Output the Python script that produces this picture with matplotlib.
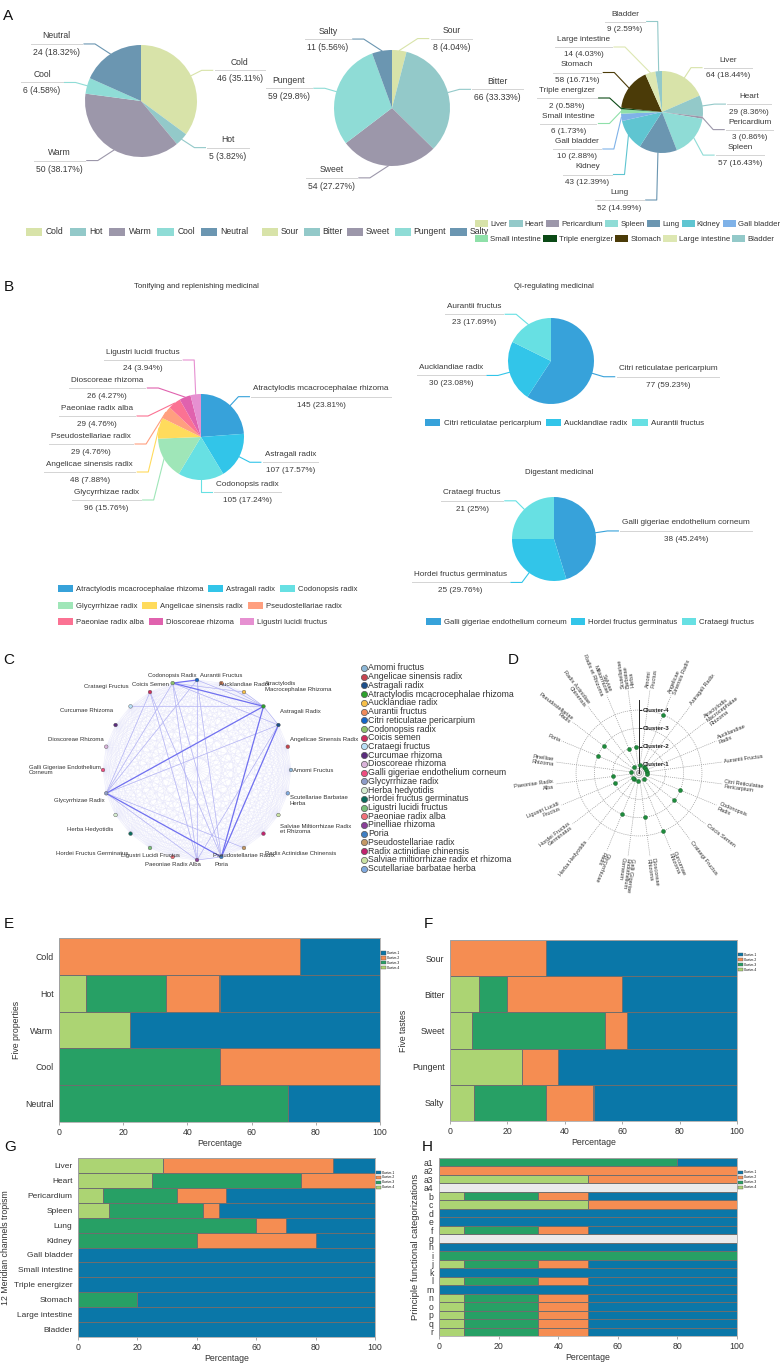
import numpy as np
import matplotlib.pyplot as plt
import matplotlib.markers as mmarkers
from matplotlib.patches import Patch
from matplotlib.collections import LineCollection

plt.rcParams['font.family'] = ['Liberation Sans', 'DejaVu Sans']

# ---------------- data ----------------
# A: properties, tastes, meridian tropism
prop_names = ['Cold', 'Hot', 'Warm', 'Cool', 'Neutral']
prop_counts = [46, 5, 50, 6, 24]
taste_names = ['Sour', 'Bitter', 'Sweet', 'Pungent', 'Salty']
taste_counts = [8, 66, 54, 59, 11]
mer_names = ['Liver', 'Heart', 'Pericardium', 'Spleen', 'Lung', 'Kidney', 'Gall bladder',
             'Small intestine', 'Triple energizer', 'Stomach', 'Large intestine', 'Bladder']
mer_counts = [64, 29, 3, 57, 52, 43, 10, 6, 2, 58, 14, 9]

# B: medicinal groups
tonify_names = ['Atractylodis mcacrocephalae rhizoma', 'Astragali radix', 'Codonopsis radix',
                'Glycyrrhizae radix', 'Angelicae sinensis radix', 'Pseudostellariae radix',
                'Paeoniae radix alba', 'Dioscoreae rhizoma', 'Ligustri lucidi fructus']
tonify_counts = [145, 107, 105, 96, 48, 29, 29, 26, 24]
qi_names = ['Citri reticulatae pericarpium', 'Aucklandiae radix', 'Aurantii fructus']
qi_counts = [77, 30, 23]
digest_names = ['Galli gigeriae endothelium corneum', 'Hordei fructus germinatus', 'Crataegi fructus']
digest_counts = [38, 25, 21]

# C: network
herb_names = ['Amomi fructus', 'Angelicae sinensis radix', 'Astragali radix',
              'Atractylodis mcacrocephalae rhizoma', 'Aucklandiae radix', 'Aurantii fructus',
              'Citri reticulatae pericarpium', 'Codonopsis radix', 'Coicis semen', 'Crataegi fructus',
              'Curcumae rhizoma', 'Dioscoreae rhizoma', 'Galli gigeriae endothelium corneum',
              'Glycyrrhizae radix', 'Herba hedyotidis', 'Hordei fructus germinatus',
              'Ligustri lucidi fructus', 'Paeoniae radix alba', 'Pinelliae rhizoma', 'Poria',
              'Pseudostellariae radix', 'Radix actinidiae chinensis',
              'Salviae miltiorrhizae radix et rhizoma', 'Scutellariae barbatae herba']
node_labels = ['Amomi Fructus', 'Angelicae Sinensis Radix', 'Astragali Radix',
               'Atractylodis\nMacrocephalae Rhizoma', 'Aucklandiae Radix', 'Aurantii Fructus', '',
               'Codonopsis Radix', 'Coicis Semen', 'Crataegi Fructus', 'Curcumae Rhizoma',
               'Dioscoreae Rhizoma', 'Galli Gigeriae Endothelium\nCorneum', 'Glycyrrhizae Radix',
               'Herba Hedyotidis', 'Hordei Fructus Germinatus', 'Ligustri Lucidi Fructus',
               'Paeoniae Radix Alba', '', 'Poria', 'Pseudostellariae Radix',
               'Radix Actinidiae Chinensis', 'Salviae Miltiorrhizae Radix\net Rhizoma',
               'Scutellariae Barbatae\nHerba']
node_colors = ['#8db8d8', '#c8454f', '#1d4f8a', '#2ea12e', '#f7c04a', '#ef8a5a', '#1565c8',
               '#8cc36a', '#cf2e5d', '#b8dff5', '#5b2c7d', '#dab4db', '#ee4d80', '#8e9cc8',
               '#d5ecd0', '#0b6b5c', '#79bf79', '#f2707a', '#8b3f98', '#3f7fc4', '#c49865',
               '#c2236d', '#c9e2a3', '#7fa9df']
strong_edges = [(7, 3), (3, 13), (3, 19), (2, 19), (13, 19), (7, 6)]
medium_edges = [(7, 13), (7, 19), (7, 18), (6, 3), (5, 3), (4, 3), (7, 2), (13, 18), (8, 18),
                (8, 19), (13, 2), (6, 19), (6, 18), (3, 2), (18, 19), (9, 3), (8, 13), (7, 4),
                (13, 20), (2, 18), (6, 13)]

# D: cluster of each herb
d_labels = ['Amomi\nFructus', 'Angelicae\nSinensis Radix', 'Astragali Radix',
            'Atractylodis\nMacrocephalae\nRhizoma', 'Aucklandiae\nRadix', 'Aurantii Fructus',
            'Citri Reticulatae\nPericarpium', 'Codonopsis\nRadix', 'Coicis Semen',
            'Crataegi Fructus', 'Curcumae\nRhizoma', 'Dioscoreae\nRhizoma',
            'Galli Gigeriae\nEndothelium\nCorneum', 'Glycyrrhizae\nRadix', 'Herba Hedyotidis',
            'Hordei Fructus\nGerminatus', 'Ligustri Lucidi\nFructus', 'Paeoniae Radix\nAlba',
            'Pinelliae\nRhizoma', 'Poria', 'Pseudostellariae\nRadix',
            'Radix Actinidiae\nChinensis', 'Salviae\nMiltiorrhizae\nRadix et Rhizoma',
            'Scutellariae\nBarbatae\nHerba']
d_cluster = [1, 4, 1, 1, 1, 1, 1, 3, 3, 1, 4, 3, 1, 3, 1, 1, 2, 2, 1, 3, 3, 1, 2, 2]

# E-H: cluster shares (%)
prop_c4 = [0, 8.3, 22.2, 0, 0]
prop_c3 = [0, 25.0, 0, 50, 71.4]
prop_c2 = [75, 16.7, 0, 50, 0]
prop_c1 = [25, 50, 77.8, 0, 28.6]

taste_c4 = [0, 10, 7.7, 25, 8.3]
taste_c3 = [0, 10, 46.2, 0, 25]
taste_c2 = [33.3, 40, 7.7, 12.5, 16.7]
taste_c1 = [66.7, 40, 38.4, 62.5, 50]

mer_c4 = [28.6, 25, 8.3, 10.5, 0, 0, 0, 0, 0, 0, 0, 0]
mer_c3 = [0, 50, 25, 31.6, 60, 40, 0, 0, 0, 20, 0, 0]
mer_c2 = [57.1, 25, 16.7, 5.3, 10, 40, 0, 0, 0, 0, 0, 0]
mer_c1 = [14.3, 0, 50, 52.6, 30, 20, 100, 100, 100, 80, 100, 100]

func_names = ['a1', 'a2', 'a3', 'a4', 'b', 'c', 'd', 'e', 'f', 'g', 'h', 'i', 'j', 'k', 'l',
              'm', 'n', 'o', 'p', 'q', 'r']
func_c4 = [0, 0, 50, 0, 8.3, 50, 0, 0, 8.3, 0, 0, 0, 8.3, 0, 8.3, 0, 8.3, 8.3, 8.3, 8.3, 8.3]
func_c3 = [80, 0, 0, 0, 25, 0, 0, 0, 25, 0, 0, 100, 25, 0, 25, 0, 25, 25, 25, 25, 25]
func_c2 = [0, 100, 50, 0, 16.7, 50, 0, 0, 16.7, 0, 0, 0, 16.7, 0, 16.7, 0, 16.7, 16.7, 16.7, 16.7, 16.7]
func_c1 = [20, 0, 0, 0, 50, 0, 100, 100, 50, 0, 100, 0, 50, 100, 50, 100, 50, 50, 50, 50, 50]

# ---------------- styles ----------------
five_cols = ['#d8e3a9', '#93c9c9', '#9c97aa', '#8fdcd6', '#6b96b1']
mer_cols = ['#d8e3a9', '#93c9c9', '#9c97aa', '#8fdcd6', '#6b96b1', '#5fc5d1', '#7fb2e8',
            '#8fe0a9', '#0b4a16', '#4b3b08', '#dde7b2', '#93c9c9']
b_cols = ['#37A2DA', '#32C5E9', '#67E0E3', '#9FE6B8', '#FFDB5C', '#ff9f7f', '#fb7293',
          '#E062AE', '#E690D1']
cl_cols = {'Cluster-1': '#0a77a8', 'Cluster-2': '#f58d52', 'Cluster-3': '#27a065',
           'Cluster-4': '#acd473'}

W, H = 780, 1367
fig = plt.figure(figsize=(W / 100, H / 100), dpi=100)
ov = fig.add_axes([0, 0, 1, 1])
ov.axis('off')
renderer = fig.canvas.get_renderer()


def px_axes(x0, y0, x1, y1, **kw):
    return fig.add_axes([x0 / W, 1 - y1 / H, (x1 - x0) / W, (y1 - y0) / H], **kw)


def push_down(ys, gap, ybot):
    order = np.argsort(ys)
    out = np.array(ys, float)
    last = -1e9
    for i in order:
        out[i] = max(out[i], last + gap)
        last = out[i]
    over = out[order[-1]] - ybot
    if over > 0:
        out -= over
    return out


def pie_block(cx, cy, r, names, counts, colors, fs=6.2, len1=12, len2=11, gap=25.5,
              maxang=33, ybot=1e9, dn=8.0, dv=8.5):
    counts = np.asarray(counts, float)
    total = counts.sum()
    ov.pie(counts, colors=colors, startangle=90, counterclock=False,
           center=(cx, H - cy), radius=r, wedgeprops=dict(linewidth=0))
    cum = np.concatenate([[0], np.cumsum(counts)])
    mids = np.radians(90 - (cum[:-1] + counts / 2) / total * 360)
    ux, uy = np.cos(mids), np.sin(mids)
    side = np.where(ux >= 0, 1, -1)
    rA = r + len1
    p0x, p0y = cx + r * ux, cy - r * uy
    p1x, p1y = cx + rA * ux, cy - rA * uy
    moved = np.zeros(len(counts), bool)
    for s in (1, -1):
        idx = np.where(side == s)[0]
        if len(idx) < 2:
            continue
        new = push_down(list(p1y[idx]), gap, ybot)
        if np.max(np.abs(new - p1y[idx])) < 0.5:
            continue
        moved[idx] = True
        for semi in (new < cy, new >= cy):
            sub = idx[semi]
            if len(sub) == 0:
                continue
            ny = new[semi]
            e = np.argmax(np.abs(ny - cy))
            dxe, dye = abs(p1x[sub[e]] - cx), abs(ny[e] - cy)
            rB = dye / np.sqrt(1 - (dxe / rA) ** 2) if dxe < rA * 0.999 else rA
            rB = max(rB, dye, 1)
            p1x[sub] = cx + s * rA * np.sqrt(np.clip(1 - (ny - cy) ** 2 / rB ** 2, 0, 1))
            p1y[sub] = ny
    for i in range(len(counts)):
        s = side[i]
        if not moved[i]:
            need = abs(p1y[i] - p0y[i]) / np.tan(np.radians(maxang))
            if abs(p1x[i] - p0x[i]) < need:
                p1x[i] = p0x[i] + s * need
        p2x = p1x[i] + s * len2
        ov.plot([p0x[i], p1x[i], p2x], [H - p0y[i], H - p1y[i], H - p1y[i]],
                color=colors[i], lw=0.8)
        pct = counts[i] / total * 100
        t1 = ov.text(0, H - p1y[i] + dn, names[i], fontsize=fs, color='#3a3a3a',
                     ha='center', va='center')
        t2 = ov.text(0, H - p1y[i] - dv, f'{int(counts[i])} ({round(pct, 2):g}%)',
                     fontsize=fs, color='#3a3a3a', ha='center', va='center')
        w = max(t.get_window_extent(renderer).width for t in (t1, t2)) + 4
        x0 = p2x + 2 if s > 0 else p2x - 2 - w
        t1.set_x(x0 + w / 2)
        t2.set_x(x0 + w / 2)
        ov.plot([x0, x0 + w], [H - p1y[i]] * 2, color='#d4d4d4', lw=0.7)


def row_legend(names, colors, x, y, fs=6.2, hl=1.9, cs=0.7, tp=0.4):
    handles = [Patch(facecolor=c, edgecolor='none') for c in colors]
    fig.legend(handles=handles, labels=names, loc='center left',
               bbox_to_anchor=(x / W, 1 - y / H), ncol=len(names), frameon=False,
               fontsize=fs, handlelength=hl, handleheight=1.05, handletextpad=tp,
               columnspacing=cs, borderpad=0, borderaxespad=0, labelcolor='#333333')


# ---------------- A ----------------
pie_block(141, 101, 56, prop_names, prop_counts, five_cols)
pie_block(392, 108, 58, taste_names, taste_counts, five_cols)
pie_block(662, 112, 41, mer_names, mer_counts, mer_cols, fs=5.9, ybot=200, dn=7.5, dv=8.0)
row_legend(prop_names, five_cols, 26, 232)
row_legend(taste_names, five_cols, 262, 232, cs=0.5, tp=0.3)
row_legend(mer_names[:7], mer_cols[:7], 475, 224, fs=5.6, hl=1.7, cs=0.3, tp=0.25)
row_legend(mer_names[7:], mer_cols[7:], 475, 239, fs=5.6, hl=1.7, cs=0.3, tp=0.25)

# ---------------- B ----------------
ov.text(196, H - 287, 'Tonifying and replenishing medicinal', fontsize=5.6, color='#333',
        ha='center', va='center')
ov.text(554, H - 287, 'Qi-regulating medicinal', fontsize=5.6, color='#333',
        ha='center', va='center')
ov.text(559, H - 473, 'Digestant medicinal', fontsize=5.6, color='#333',
        ha='center', va='center')
pie_block(201, 437, 43, tonify_names, tonify_counts, b_cols, fs=5.9, gap=28, ybot=500,
          maxang=90)
pie_block(551, 361, 43, qi_names, qi_counts, b_cols[:3], fs=5.9, maxang=40)
pie_block(554, 539, 42, digest_names, digest_counts, b_cols[:3], fs=5.9, maxang=90)
row_legend(tonify_names[:3], b_cols[:3], 58, 589, fs=5.5, cs=0.7)
row_legend(tonify_names[3:6], b_cols[3:6], 58, 606, fs=5.5, cs=0.7)
row_legend(tonify_names[6:], b_cols[6:], 58, 622, fs=5.5, cs=0.7)
row_legend(qi_names, b_cols[:3], 425, 423, fs=5.8, cs=0.6)
row_legend(digest_names, b_cols[:3], 426, 622, fs=5.6, cs=0.5)

ov.set_xlim(0, W)
ov.set_ylim(0, H)

# ---------------- C ----------------
cax = px_axes(17, 660, 377, 880)
cax.set_xlim(-180, 180)
cax.set_ylim(-110, 110)
cax.axis('off')
ang = np.radians(15 * np.arange(len(herb_names)))
nx, ny = 94 * np.cos(ang), 90 * np.sin(ang)
pts = np.column_stack([nx, ny])
faint = [[pts[i], pts[j]] for i in range(len(pts)) for j in range(i + 1, len(pts))]
cax.add_collection(LineCollection(faint, colors='#e7e7fb', linewidths=0.3))
cax.add_collection(LineCollection([[pts[i], pts[j]] for i, j in medium_edges],
                                  colors='#b4b4f4', linewidths=0.5))
cax.add_collection(LineCollection([[pts[i], pts[j]] for i, j in strong_edges],
                                  colors='#7070f0', linewidths=0.9))
cax.scatter(nx, ny, s=7, c=node_colors, edgecolors='#555555', linewidths=0.3, zorder=3)
for i, lab in enumerate(node_labels):
    if not lab:
        continue
    ca, sa = np.cos(ang[i]), np.sin(ang[i])
    if ca > 0.6:
        cax.text(nx[i] + 2, ny[i] + 28 * sa, lab, fontsize=4.3, color='#333', ha='left',
                 va='center')
    elif ca < -0.6:
        cax.text(nx[i] - 2, ny[i] + 28 * sa, lab, fontsize=4.3, color='#333', ha='right',
                 va='center', multialignment='left')
    else:
        cax.text(nx[i], ny[i] + (5 if sa > 0 else -5), lab, fontsize=4.3, color='#333',
                 ha='center', va='bottom' if sa > 0 else 'top')

for k, (nm, col) in enumerate(zip(herb_names, node_colors)):
    yk = 668 + k * 8.72
    ov.scatter(364, H - yk, s=20, color=col, edgecolors='#555555', linewidths=0.5)
    ov.text(368, H - yk, nm, fontsize=6.3, color='#333', va='center', ha='left')

# ---------------- D ----------------
dax = px_axes(639 - 84, 773 - 84, 639 + 84, 773 + 84, projection='polar')
dax.set_theta_zero_location('N')
dax.set_theta_direction(-1)
dax.set_ylim(0.56, 5.15)
th_deg = 7.5 + 15 * np.arange(len(d_labels))
th = np.radians(th_deg)
dax.set_xticks(th)
dax.set_xticklabels([])
dax.set_yticks([0.62, 0.68, 1, 2, 3, 4])
dax.set_yticklabels([])
dax.grid(True, color='#9a9a9a', linestyle=(0, (1.5, 1.5)), linewidth=0.5)
dax.spines['polar'].set_visible(False)
dax.set_facecolor('none')
dax.plot([0, 0], [0.56, 4.55], color='#222222', lw=0.7)
dax.plot(np.zeros(4), [1, 2, 3, 4], ls='none', marker=mmarkers.TICKRIGHT, ms=2.5,
         color='#222222', mew=0.6)
for k in range(1, 5):
    dax.annotate(f'Cluster-{k}', (0, k), xytext=(3, 0), textcoords='offset points',
                 fontsize=4.4, fontweight='bold', va='center', ha='left', color='#222')
dax.scatter(th, d_cluster, s=8, color='#1e8c3c', edgecolors='#0d5a22', linewidths=0.3,
            zorder=5)
for t, lab in zip(th_deg, d_labels):
    if t <= 202.5 or t >= 345:
        rot, ha = 90 - t, 'left'
    else:
        rot, ha = 270 - t, 'right'
    rot = (rot + 180) % 360 - 180
    dax.text(np.radians(t), 5.25, lab, rotation=rot, rotation_mode='anchor', ha=ha,
             va='center', fontsize=4.1, color='#333', clip_on=False, linespacing=1.0)

# ---------------- E-H ----------------
def stacked(ax, cats, c4, c3, c2, c1, ylabel, ytick_fs=6.3, ylab_fs=6.3):
    ax.set_facecolor('#ebebeb')
    y = np.arange(len(cats))
    left = np.zeros(len(cats))
    for vals, lab in zip([c4, c3, c2, c1], ['Cluster-4', 'Cluster-3', 'Cluster-2', 'Cluster-1']):
        vals = np.asarray(vals, float)
        m = vals > 0
        ax.barh(y[m], vals[m], left=left[m], height=1.0, color=cl_cols[lab],
                edgecolor='#6e6e6e', linewidth=0.7)
        left += vals
    ax.set_xlim(0, 100)
    ax.set_ylim(len(cats) - 0.5, -0.5)
    ax.set_yticks(y)
    ax.set_yticklabels(cats)
    ax.set_xticks([0, 20, 40, 60, 80, 100])
    ax.tick_params(axis='y', length=0, pad=4, labelsize=ytick_fs, labelcolor='#333')
    ax.tick_params(axis='x', length=2, width=0.5, color='#888', pad=2, labelsize=6.3,
                   labelcolor='#333')
    for sp in ax.spines.values():
        sp.set_color('#aaaaaa')
        sp.set_linewidth(0.6)
    ax.set_xlabel('Percentage', fontsize=6.3, color='#333', labelpad=1.5)
    ax.set_ylabel(ylabel, fontsize=ylab_fs, color='#333', labelpad=3)
    handles = [Patch(facecolor=cl_cols[k], edgecolor='#555', linewidth=0.3)
               for k in ['Cluster-1', 'Cluster-2', 'Cluster-3', 'Cluster-4']]
    ax.legend(handles, ['Cluster-1', 'Cluster-2', 'Cluster-3', 'Cluster-4'],
              loc='upper left', bbox_to_anchor=(1.004, 0.93), fontsize=2.3, frameon=False,
              handlelength=1.6, handleheight=1.3, handletextpad=0.3, labelspacing=0.3,
              borderpad=0, borderaxespad=0)


eax = px_axes(59, 938, 380, 1122)
stacked(eax, prop_names, prop_c4, prop_c3, prop_c2, prop_c1, 'Five properties')
fax = px_axes(450, 940, 737, 1121)
stacked(fax, taste_names, taste_c4, taste_c3, taste_c2, taste_c1, 'Five tastes')
gax = px_axes(78, 1158, 375, 1337)
stacked(gax, mer_names, mer_c4, mer_c3, mer_c2, mer_c1, '12 Meridian channels tropism',
        ytick_fs=6.0)
hax = px_axes(439, 1158, 737, 1336)
stacked(hax, func_names, func_c4, func_c3, func_c2, func_c1,
        'Principle functional categorizations', ytick_fs=6.2, ylab_fs=6.8)

# panel letters
for lab, x, y in [('A', 3, 20), ('B', 4, 291), ('C', 3, 664), ('D', 508, 664),
                  ('E', 4, 928), ('F', 424, 928), ('G', 4, 1151), ('H', 422, 1151)]:
    fig.text(x / W, 1 - y / H, lab, fontsize=11, va='baseline', ha='left', color='#111')

fig.savefig('out.png', dpi=100)
